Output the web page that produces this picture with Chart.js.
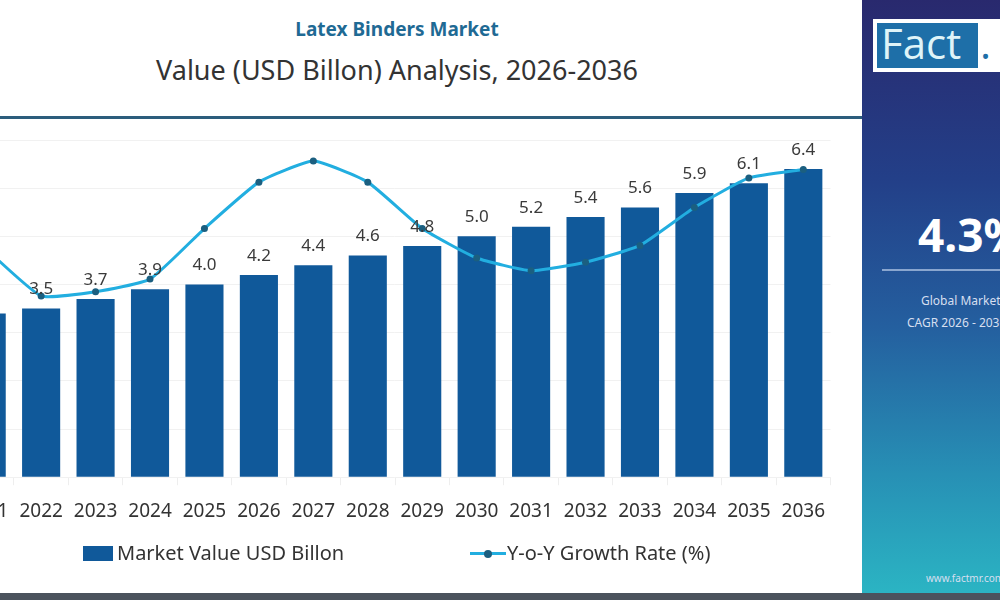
<!DOCTYPE html>
<html>
<head>
<meta charset="utf-8">
<script src="https://cdn.jsdelivr.net/npm/chart.js@4.4.1/dist/chart.umd.min.js"></script>
<style>
  html, body { margin: 0; padding: 0; }
  body { width: 1000px; height: 600px; overflow: hidden; position: relative; background: #fff; font-family: 'Noto Sans', sans-serif; }
  .t1 { position: absolute; top: 16px; left: 0; width: 794px; text-align: center; font-size: 19px; font-weight: 700; color: #1f6a94; }
  .t2 { position: absolute; top: 51px; left: 0; width: 794px; text-align: center; font-size: 27px; color: #333; }
  .topline { position: absolute; top: 116px; left: 0; width: 862px; height: 3px; background: #2c5d7c; }
  .wrap { position: absolute; left: -50.5px; top: 130px; width: 890px; height: 416px; }
  .legend { position: absolute; top: 539px; left: 0; width: 862px; height: 28px; font-size: 20px; color: #333; }
  .lg1 { position: absolute; left: 83px; top: 7px; width: 30px; height: 15px; background: #10599a; }
  .lg1t { position: absolute; left: 117px; top: 0; }
  .lg2 { position: absolute; left: 470px; top: 13px; width: 36px; height: 3px; background: #22aee0; }
  .lg2 i { position: absolute; left: 14px; top: -2.5px; width: 8px; height: 8px; border-radius: 50%; background: #1b5f80; }
  .lg2t { position: absolute; left: 507px; top: 0; }
  .bottom { position: absolute; left: 0; top: 593px; width: 1000px; height: 7px; background: #4b535d; }
  .panel { position: absolute; left: 862px; top: 0; width: 138px; height: 593px; overflow: hidden;
           background: linear-gradient(180deg, #29296e 0%, #233f88 30%, #245f9f 55%, #2790b5 80%, #2bb4c3 100%); }
  .logo { position: absolute; left: 11px; top: 19px; width: 140px; height: 53px; background: #fff; }
  .logo .fb { position: absolute; left: 4px; top: 4px; width: 101px; height: 45px; background: #1e6fa8; }
  .logo .ft { position: absolute; left: 8px; top: -5px; font-size: 42px; color: #dff4f8; font-family: 'Open Sans', sans-serif; }
  .logo .dot { position: absolute; left: 107px; top: -5px; font-size: 42px; color: #1e6fa8; font-family: 'Open Sans', sans-serif; }
  .logo .m { position: absolute; left: 124px; top: -5px; font-size: 42px; color: #1e6fa8; font-family: 'Open Sans', sans-serif; }
  .cagr { position: absolute; left: 56px; top: 203px; font-size: 46px; font-weight: 700; color: #fff; white-space: nowrap; }
  .pline { position: absolute; left: 20px; top: 269px; width: 130px; height: 2px; background: #8aa6cf; }
  .ptext { position: absolute; font-size: 12px; color: #d6dff0; white-space: nowrap; }
</style>
</head>
<body>
<div class="t1">Latex Binders Market</div>
<div class="t2">Value (USD Billon) Analysis, 2026-2036</div>
<div class="topline"></div>
<div class="wrap"><canvas id="myChart"></canvas></div>
<div class="legend">
  <div class="lg1"></div><div class="lg1t">Market Value USD Billon</div>
  <div class="lg2"><i></i></div><div class="lg2t">Y-o-Y Growth Rate (%)</div>
</div>
<div class="panel">
  <div class="logo"><div class="fb"></div><span class="ft">Fact</span><span class="dot">.</span><span class="m">MR</span></div>
  <div class="cagr">4.3%</div>
  <div class="pline"></div>
  <div class="ptext" style="left:59px;top:292px;">Global Market Value</div>
  <div class="ptext" style="left:45px;top:314px;">CAGR 2026 - 2036</div>
  <div class="ptext" style="left:64px;top:571px;font-size:10px;">www.factmr.com</div>
</div>
<div class="bottom"></div>

<script>
var years = ['2021', '2022', '2023', '2024', '2025', '2026', '2027', '2028', '2029', '2030', '2031', '2032', '2033', '2034', '2035', '2036'];
var marketValue = [3.4, 3.5, 3.7, 3.9, 4.0, 4.2, 4.4, 4.6, 4.8, 5.0, 5.2, 5.4, 5.6, 5.9, 6.1, 6.4];
var growthRate = [5.4, 4.3, 4.4, 4.7, 5.9, 7.0, 7.5, 7.0, 5.9, 5.2, 4.9, 5.1, 5.5, 6.4, 7.1, 7.3];

// value labels on top of the bars
var barLabels = {
    id: 'barLabels',
    afterDatasetsDraw: function(chart) {
        var ctx = chart.ctx;
        var meta = chart.getDatasetMeta(1);
        ctx.save();
        ctx.font = '17px "Noto Sans", sans-serif';
        ctx.fillStyle = '#3a3a3a';
        ctx.textAlign = 'center';
        ctx.textBaseline = 'middle';
        meta.data.forEach(function(bar, i) {
            ctx.fillText(marketValue[i].toFixed(1), bar.x, bar.y - 19);
        });
        ctx.restore();
    }
};

var ctx = document.getElementById('myChart').getContext('2d');
var myChart = new Chart(ctx, {
    type: 'bar',
    data: {
        labels: years,
        datasets: [{
            type: 'line',
            label: 'Y-o-Y Growth Rate (%)',
            data: growthRate,
            yAxisID: 'y1',
            borderColor: '#22aee0',
            borderWidth: 3,
            tension: 0.15,
            pointRadius: 3.5,
            pointBackgroundColor: '#1b5f80',
            pointBorderWidth: 0,
            order: 0   // lower order -> drawn over the bars
        }, {
            type: 'bar',
            label: 'Market Value USD Billon',
            data: marketValue,
            yAxisID: 'y',
            backgroundColor: '#10599a',
            categoryPercentage: 1,
            barPercentage: 0.7,
            order: 1
        }]
    },
    options: {
        responsive: true,
        maintainAspectRatio: false,
        animation: false,
        layout: { padding: { top: 10, bottom: 8, left: 0, right: 0 } },
        plugins: {
            legend: { display: false },
            tooltip: { enabled: false }
        },
        scales: {
            x: {
                offset: true,
                grid: { drawOnChartArea: false, tickLength: 8, color: '#eeeeee', offset: true },
                border: { display: false },
                ticks: { color: '#333', padding: 15, font: { size: 19, family: '"Noto Sans", sans-serif' } }
            },
            y: {
                min: 0,
                max: 7,
                ticks: { display: false, stepSize: 1 },
                grid: { color: '#f1f1f1', drawTicks: false },
                border: { display: false }
            },
            y1: {
                display: false,
                min: 0,
                max: 8
            }
        }
    },
    plugins: [barLabels]
});
</script>
</body>
</html>
